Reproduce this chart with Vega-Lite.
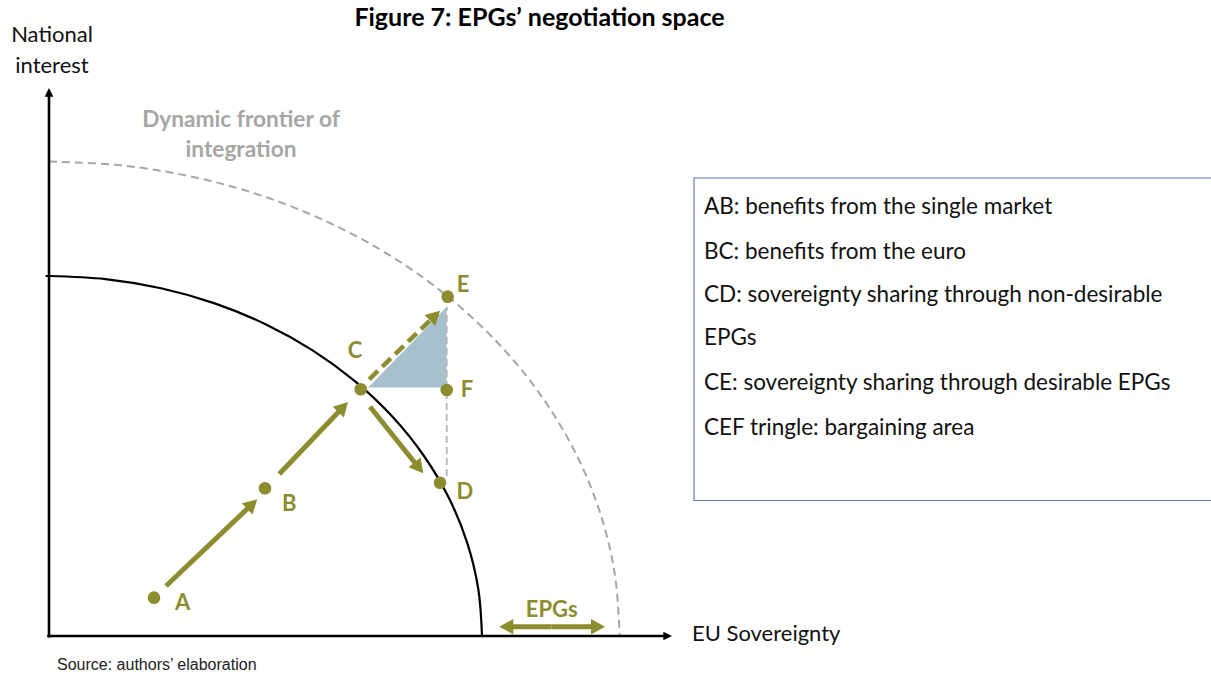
{
  "$schema": "https://vega.github.io/schema/vega-lite/v6.json",
  "width": 1211,
  "height": 675,
  "autosize": "none",
  "padding": 0,
  "background": "white",
  "config": {"view": {"stroke": null}},
  "datasets": {
    "points": [
      {"name": "A", "x": 0.2425, "y": 0.1064},
      {"name": "B", "x": 0.4988, "y": 0.4103},
      {"name": "C", "x": 0.7199, "y": 0.6853},
      {"name": "D", "x": 0.903, "y": 0.4258},
      {"name": "E", "x": 0.9208, "y": 0.9425},
      {"name": "F", "x": 0.9185, "y": 0.6833}
    ],
    "arrows": [
      {"id": "AB", "kind": "olive", "x": 0.2702, "y": 0.1389, "x2": 0.4643, "y2": 0.3606, "tx": 0.4811, "ty": 0.3797, "heading": 46.5},
      {"id": "BC", "kind": "olive", "x": 0.5319, "y": 0.45, "x2": 0.6746, "y2": 0.63, "tx": 0.6905, "ty": 0.65, "heading": 43.7},
      {"id": "CD", "kind": "olive", "x": 0.7413, "y": 0.6369, "x2": 0.85, "y2": 0.4736, "tx": 0.8644, "ty": 0.4519, "heading": 141.3},
      {"id": "CE", "kind": "olive-dashed", "x": 0.7397, "y": 0.7131, "x2": 0.8864, "y2": 0.8842, "tx": 0.903, "ty": 0.9036, "heading": 45.9},
      {"id": "EPGs-left", "kind": "olive", "x": 1.161, "y": 0.0258, "x2": 1.063, "y2": 0.0258, "tx": 1.04, "ty": 0.0258, "heading": 270},
      {"id": "EPGs-right", "kind": "olive", "x": 1.161, "y": 0.0258, "x2": 1.261, "y2": 0.0258, "tx": 1.2841, "ty": 0.0258, "heading": 90},
      {"id": "x-axis", "kind": "axis", "x": -0.004, "y": 0, "x2": 1.425, "y2": 0, "tx": 1.4388, "ty": 0, "heading": 90},
      {"id": "y-axis", "kind": "axis", "x": 0, "y": -0.004, "x2": 0, "y2": 1.5056, "tx": 0, "ty": 1.5222, "heading": 0}
    ],
    "arcs": [
      {"curve": "frontier", "x": 0, "y": 1},
      {"curve": "frontier", "x": 0.1305, "y": 0.9914},
      {"curve": "frontier", "x": 0.2588, "y": 0.9659},
      {"curve": "frontier", "x": 0.3827, "y": 0.9239},
      {"curve": "frontier", "x": 0.5, "y": 0.866},
      {"curve": "frontier", "x": 0.6088, "y": 0.7934},
      {"curve": "frontier", "x": 0.7071, "y": 0.7071},
      {"curve": "frontier", "x": 0.7934, "y": 0.6088},
      {"curve": "frontier", "x": 0.866, "y": 0.5},
      {"curve": "frontier", "x": 0.9239, "y": 0.3827},
      {"curve": "frontier", "x": 0.9659, "y": 0.2588},
      {"curve": "frontier", "x": 0.9914, "y": 0.1305},
      {"curve": "frontier", "x": 1, "y": 0},
      {"curve": "dynamic", "x": 0, "y": 1.318},
      {"curve": "dynamic", "x": 0.172, "y": 1.3067},
      {"curve": "dynamic", "x": 0.3411, "y": 1.2731},
      {"curve": "dynamic", "x": 0.5044, "y": 1.2177},
      {"curve": "dynamic", "x": 0.659, "y": 1.1414},
      {"curve": "dynamic", "x": 0.8024, "y": 1.0457},
      {"curve": "dynamic", "x": 0.932, "y": 0.932},
      {"curve": "dynamic", "x": 1.0457, "y": 0.8024},
      {"curve": "dynamic", "x": 1.1414, "y": 0.659},
      {"curve": "dynamic", "x": 1.2177, "y": 0.5044},
      {"curve": "dynamic", "x": 1.2731, "y": 0.3411},
      {"curve": "dynamic", "x": 1.3067, "y": 0.172},
      {"curve": "dynamic", "x": 1.318, "y": 0}
    ],
    "triangle": [
      {"x": 0.7374, "y": 0.69, "y0": 0.69},
      {"x": 0.9185, "y": 0.9147, "y0": 0.69}
    ],
    "guides": [
      {"id": "EFD", "x": 0.9185, "x2": 0.9185, "y": 0.4444, "y2": 0.9147},
      {"id": "tick", "x": -0.008, "x2": 0, "y": 1, "y2": 1}
    ],
    "box": [
      {"x": 1.4896, "x2": 2.7, "y": 0.3764, "y2": 1.2722}
    ],
    "labels": [
      {"role": "pt", "text": "A", "x": 0.3088, "y": 0.0908},
      {"role": "pt", "text": "B", "x": 0.555, "y": 0.3658},
      {"role": "pt", "text": "C", "x": 0.7067, "y": 0.7925},
      {"role": "pt", "text": "D", "x": 0.9607, "y": 0.4008},
      {"role": "pt", "text": "E", "x": 0.9561, "y": 0.975},
      {"role": "pt", "text": "F", "x": 0.9654, "y": 0.6833},
      {"role": "pt", "text": "EPGs", "x": 1.161, "y": 0.0722},
      {"role": "title", "text": "Figure 7: EPGs’ negotiation space", "x": 1.1328, "y": 1.7167},
      {"role": "yaxis", "text": "National", "x": 0.0069, "y": 1.6694},
      {"role": "yaxis", "text": "interest", "x": 0.0069, "y": 1.5833},
      {"role": "xaxis", "text": "EU Sovereignty", "x": 1.485, "y": 0.0056},
      {"role": "frontier", "text": "Dynamic frontier of", "x": 0.4434, "y": 1.4333},
      {"role": "frontier", "text": "integration", "x": 0.4434, "y": 1.35},
      {"role": "legend", "text": "AB: benefits from the single market", "x": 1.5127, "y": 1.1925},
      {"role": "legend", "text": "BC: benefits from the euro", "x": 1.5127, "y": 1.0675},
      {"role": "legend", "text": "CD: sovereignty sharing through non-desirable", "x": 1.5127, "y": 0.9472},
      {"role": "legend", "text": "EPGs", "x": 1.5127, "y": 0.8269},
      {"role": "legend", "text": "CE: sovereignty sharing through desirable EPGs", "x": 1.5127, "y": 0.7019},
      {"role": "legend", "text": "CEF tringle: bargaining area", "x": 1.5127, "y": 0.5769},
      {"role": "source", "text": "Source: authors’ elaboration", "x": 0.0185, "y": -0.0806}
    ]
  },
  "encoding": {
    "x": {"field": "x", "type": "quantitative", "scale": {"domain": [-0.11316, 2.6836], "nice": false, "zero": false}, "axis": null},
    "y": {"field": "y", "type": "quantitative", "scale": {"domain": [-0.10833, 1.76667], "nice": false, "zero": false}, "axis": null}
  },
  "layer": [
    {
      "data": {"name": "box"},
      "mark": {"type": "rect", "fill": "white", "stroke": "#5b7fb0", "strokeWidth": 1.2},
      "encoding": {"x2": {"field": "x2"}, "y2": {"field": "y2"}}
    },
    {
      "data": {"name": "triangle"},
      "mark": {"type": "area", "color": "#a7c0cd", "opacity": 1},
      "encoding": {"y2": {"field": "y0"}}
    },
    {
      "data": {"name": "arcs"},
      "transform": [{"filter": "datum.curve === 'frontier'"}],
      "mark": {"type": "line", "color": "#000000", "strokeWidth": 2.2, "interpolate": "cardinal"},
      "encoding": {}
    },
    {
      "data": {"name": "arcs"},
      "transform": [{"filter": "datum.curve === 'dynamic'"}],
      "mark": {"type": "line", "color": "#a6a6a6", "strokeWidth": 2, "strokeDash": [8, 5], "interpolate": "cardinal"},
      "encoding": {}
    },
    {
      "data": {"name": "guides"},
      "transform": [{"filter": "datum.id === 'EFD'"}],
      "mark": {"type": "rule", "color": "#b3b3b3", "strokeWidth": 1.8, "strokeDash": [7, 4]},
      "encoding": {"x2": {"field": "x2"}, "y2": {"field": "y2"}}
    },
    {
      "data": {"name": "guides"},
      "transform": [{"filter": "datum.id === 'tick'"}],
      "mark": {"type": "rule", "color": "#000000", "strokeWidth": 2},
      "encoding": {"x2": {"field": "x2"}, "y2": {"field": "y2"}}
    },
    {
      "data": {"name": "arrows"},
      "transform": [{"filter": "datum.kind === 'axis'"}],
      "mark": {"type": "rule", "color": "#000000", "strokeWidth": 2.6},
      "encoding": {"x2": {"field": "x2"}, "y2": {"field": "y2"}}
    },
    {
      "data": {"name": "arrows"},
      "transform": [{"filter": "datum.kind === 'olive'"}],
      "mark": {"type": "rule", "color": "#8d8d2f", "strokeWidth": 5},
      "encoding": {"x2": {"field": "x2"}, "y2": {"field": "y2"}}
    },
    {
      "data": {"name": "arrows"},
      "transform": [{"filter": "datum.kind === 'olive-dashed'"}],
      "mark": {"type": "rule", "color": "#8d8d2f", "strokeWidth": 4.5, "strokeDash": [12, 6]},
      "encoding": {"x2": {"field": "x2"}, "y2": {"field": "y2"}}
    },
    {
      "data": {"name": "arrows"},
      "transform": [{"filter": "datum.kind !== 'axis'"}],
      "mark": {"type": "point", "shape": "M0,0L0.55,1L-0.55,1Z", "filled": true, "color": "#8d8d2f", "opacity": 1, "size": 784, "strokeWidth": 0},
      "encoding": {
        "x": {"field": "tx", "type": "quantitative"},
        "y": {"field": "ty", "type": "quantitative"},
        "angle": {"field": "heading", "type": "quantitative", "scale": null}
      }
    },
    {
      "data": {"name": "arrows"},
      "transform": [{"filter": "datum.kind === 'axis'"}],
      "mark": {"type": "point", "shape": "M0,0L0.5,1L-0.5,1Z", "filled": true, "color": "#000000", "opacity": 1, "size": 300, "strokeWidth": 0},
      "encoding": {
        "x": {"field": "tx", "type": "quantitative"},
        "y": {"field": "ty", "type": "quantitative"},
        "angle": {"field": "heading", "type": "quantitative", "scale": null}
      }
    },
    {
      "data": {"name": "points"},
      "mark": {"type": "point", "shape": "circle", "filled": true, "color": "#8d8d2f", "opacity": 1, "size": 160},
      "encoding": {}
    },
    {
      "data": {"name": "labels"},
      "transform": [{"filter": "datum.role === 'pt'"}],
      "mark": {"type": "text", "font": "Lato", "fontWeight": "bold", "fontSize": 22, "color": "#8d8d2f", "align": "center", "baseline": "middle"},
      "encoding": {"text": {"field": "text"}}
    },
    {
      "data": {"name": "labels"},
      "transform": [{"filter": "datum.role === 'title'"}],
      "mark": {"type": "text", "font": "Lato", "fontWeight": "bold", "fontSize": 25, "color": "#000000", "align": "center", "baseline": "middle"},
      "encoding": {"text": {"field": "text"}}
    },
    {
      "data": {"name": "labels"},
      "transform": [{"filter": "datum.role === 'yaxis'"}],
      "mark": {"type": "text", "font": "Lato", "fontSize": 22, "color": "#111111", "align": "center", "baseline": "middle"},
      "encoding": {"text": {"field": "text"}}
    },
    {
      "data": {"name": "labels"},
      "transform": [{"filter": "datum.role === 'xaxis'"}],
      "mark": {"type": "text", "font": "Lato", "fontSize": 22, "color": "#111111", "align": "left", "baseline": "middle"},
      "encoding": {"text": {"field": "text"}}
    },
    {
      "data": {"name": "labels"},
      "transform": [{"filter": "datum.role === 'legend'"}],
      "mark": {"type": "text", "font": "Lato", "fontSize": 22.5, "color": "#111111", "align": "left", "baseline": "middle"},
      "encoding": {"text": {"field": "text"}}
    },
    {
      "data": {"name": "labels"},
      "transform": [{"filter": "datum.role === 'frontier'"}],
      "mark": {"type": "text", "font": "Lato", "fontWeight": "bold", "fontSize": 22.7, "color": "#a6a6a6", "align": "center", "baseline": "middle"},
      "encoding": {"text": {"field": "text"}}
    },
    {
      "data": {"name": "labels"},
      "transform": [{"filter": "datum.role === 'source'"}],
      "mark": {"type": "text", "font": "Liberation Sans", "fontSize": 16, "color": "#222222", "align": "left", "baseline": "middle"},
      "encoding": {"text": {"field": "text"}}
    }
  ]
}
